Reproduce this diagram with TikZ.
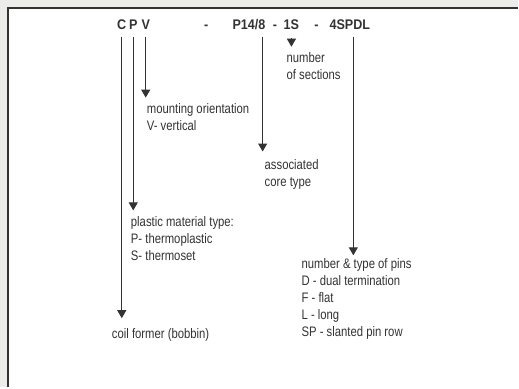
\documentclass[tikz,border=0pt]{standalone}
\usepackage{fontspec}
\setmainfont[FakeStretch=0.82]{Liberation Sans}
\newfontfamily\codefont[FakeStretch=0.9]{Liberation Sans}
\usetikzlibrary{arrows.meta}
\definecolor{framegray}{HTML}{ECEDEB}
\definecolor{inkgray}{HTML}{333333}

\begin{document}
\begin{tikzpicture}[x=1pt, y=-1pt,
    every node/.style={text=inkgray, inner sep=0pt},
    code/.style={anchor=base, font=\codefont\fontsize{14}{14}\selectfont\bfseries},
    legend/.style={anchor=base west, align=left, font=\fontsize{13.8}{17}\selectfont},
    pointer/.style={draw=inkgray, line width=1pt, -{Triangle[width=9pt,length=8pt]}}]
        % Rahmen
        \fill[framegray] (0,0) rectangle (519,388);
        \fill[white] (8,8) rectangle (519,388);
        \draw[inkgray, line width=2pt] (8,388) -- (8,8) -- (519,8);

        % Bezeichnung
        \node[code] (hc) at (122,30) {C};
        \node[code] (hp) at (133.5,30) {P};
        \node[code] (hv) at (146,30) {V};
        \node[code] (hdasha) at (206.5,30) {-};
        \node[code] (hcore) at (249.5,30) {P14/8};
        \node[code] (hdashb) at (275.5,30) {-};
        \node[code] (hsect) at (292,30) {1S};
        \node[code] (hdashc) at (317,30) {-};
        \node[code] (hpins) at (350.5,30) {4SPDL};

        % Erklaerungen (Grundlinie der letzten Zeile)
        \node[legend] (lsect) at (287,80) {number\\of sections};
        \node[legend] (lmount) at (147,131) {mounting orientation\\V- vertical};
        \node[legend] (lcore) at (265,187) {associated\\core type};
        \node[legend] (lplastic) at (131,261) {plastic material type:\\P- thermoplastic\\S- thermoset};
        \node[legend] (lpins) at (302,337) {number \& type of pins\\D - dual termination\\F - flat\\L - long\\SP - slanted pin row};
        \node[legend] (lbobbin) at (112,339) {coil former (bobbin)};

        % Pfeile
        \coordinate (csrc) at ([yshift=-7pt]hc.south);
        \coordinate (psrc) at ([yshift=-7pt]hp.south);
        \coordinate (vsrc) at ([yshift=-7pt]hv.south);
        \coordinate (coresrc) at ([xshift=-3pt,yshift=-7pt]hcore.south east);
        \coordinate (sectsrc) at ([yshift=-8pt]hsect.south);
        \coordinate (pinssrc) at ([xshift=3.5pt,yshift=-7pt]hpins.south);

        \draw[pointer, shorten >=10pt] (csrc) -- (csrc |- lbobbin.north);
        \draw[pointer, shorten >=6pt] (psrc) -- (psrc |- lplastic.north);
        \draw[pointer, shorten >=6pt] (vsrc) -- (vsrc |- lmount.north);
        \draw[pointer, shorten >=8pt] (coresrc) -- (coresrc |- lcore.north);
        \draw[pointer, shorten >=6pt] (sectsrc) -- (sectsrc |- lsect.north);
        \draw[pointer, shorten >=3pt] (pinssrc) -- (pinssrc |- lpins.north);
    \end{tikzpicture}
\end{document}
